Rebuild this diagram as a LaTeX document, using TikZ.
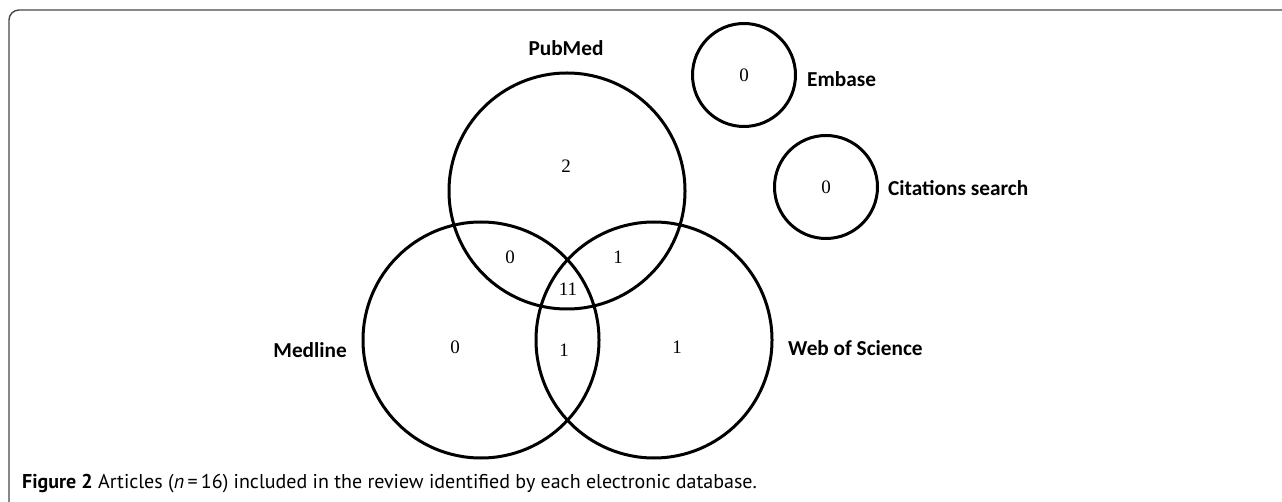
\documentclass[tikz,border=0pt]{standalone}
\usepackage{fontspec}
\setmainfont{Liberation Serif}
\newfontfamily\labfont{Carlito}
\newfontfamily\capfont{PT Sans}
\definecolor{framec}{RGB}{70,70,70}
\begin{document}
\begin{tikzpicture}[x=1pt,y=-1pt,
  setc/.style={draw=black, line width=3pt, circle, minimum size=236pt, inner sep=0pt},
  smallc/.style={draw=black, line width=3pt, circle, minimum size=103pt, inner sep=0pt},
  num/.style={inner sep=0pt, font=\fontsize{19}{19}\selectfont},
  lbl/.style={inner sep=0pt, font=\labfont\bfseries\fontsize{21.3}{21.3}\selectfont}]
\useasboundingbox (0,0) rectangle (1282,502);
\draw[framec, line width=1.4pt, rounded corners=10pt] (9,502) -- (9,10) -- (1282,10);
% circles
\node[setc] (pub) at (567,191) {};
\node[setc] (med) at (481,340) {};
\node[setc] (wos) at (654,340) {};
\node[smallc] (emb) at (744,75) {};
\node[smallc] (cit) at (826,187) {};
% numbers
\node[num] (n2) at (566,166) {2};
\node[num] (npm) at (510,257) {0};
\node[num] (npw) at (618,257) {1};
\node[num] (nall) at (568,289) {11};
\node[num] (nmw) at (564,350) {1};
\node[num] (nm) at (455,347) {0};
\node[num] (nw) at (677,347) {1};
\node[num] (ne) at (emb) {0};
\node[num] (nc) at (cit) {0};
% labels
\node[lbl] (lpub) at (566,48) {PubMed};
\node[lbl, anchor=east] (lmed) at (347,350) {Medline};
\node[lbl, anchor=west] (lwos) at (788,348) {Web of Science};
\node[lbl, anchor=west] (lemb) at (807,79) {Embase};
\node[lbl, anchor=west] (lcit) at (888,188) {Citations search};
% caption
\node[inner sep=0pt, anchor=base west, font=\capfont\fontsize{20}{20}\selectfont] (cap) at (22,488)
  {\bfseries Figure 2\mdseries\ Articles ({\itshape n}\,=\,16) included in the review identified by each electronic database.};
\end{tikzpicture}
\end{document}
